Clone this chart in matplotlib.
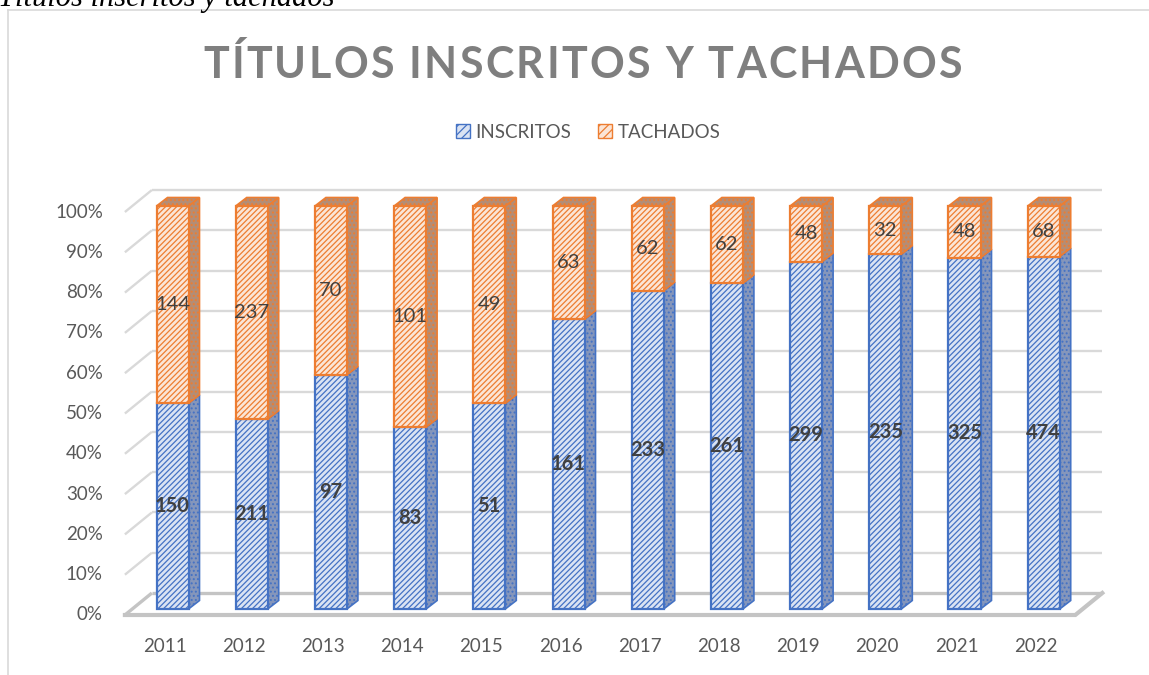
import matplotlib
matplotlib.use("Agg")
import matplotlib.pyplot as plt
from matplotlib.patches import Polygon, Patch
import numpy as np

# ---------------- data ----------------
years = ["2011", "2012", "2013", "2014", "2015", "2016",
         "2017", "2018", "2019", "2020", "2021", "2022"]
inscritos = [150, 211, 97, 83, 51, 161, 233, 261, 299, 235, 325, 474]
tachados = [144, 237, 70, 101, 49, 63, 62, 62, 48, 32, 48, 68]
y_ticks = [0, 10, 20, 30, 40, 50, 60, 70, 80, 90, 100]
title = "TÍTULOS INSCRITOS Y TACHADOS"
caption = "Títulos inscritos y tachados"
series_names = ["INSCRITOS", "TACHADOS"]

# ---------------- style / layout ----------------
W, H = 1149, 675
DPI = 100
FONT = "Lato"
BLUE = "#4472c4"
BLUE_BG = "#dae3f3"
BLUE_SIDE = "#8596bb"
ORANGE = "#ed7d31"
ORANGE_BG = "#fbe5d6"
ORANGE_SIDE = "#b48d75"
TXT = "#595959"
LBL = "#404040"
GRID = "#d9d9d9"
FLOOR = "#c4c4c4"

plt.rcParams["hatch.linewidth"] = 0.9

fig = plt.figure(figsize=(W / DPI, H / DPI), dpi=DPI)
ax = fig.add_axes([0, 0, 1, 1])
ax.set_axis_off()

# pixel geometry of the pseudo-3D frame
SP = 79.2      # px per category
C0 = 164.5     # px x of first category centre (front plane)
PY0 = 615.0    # px y (from top) of 0 % on the front plane
PPP = 4.03     # px per percent
ax.set_xlim(-C0 / SP, (W - C0) / SP)
ax.set_ylim((PY0 - H) / PPP, PY0 / PPP)

DX, DY = 27 / SP, 22 / PPP          # wall depth
BX, BY = 8 / SP, 6 / PPP            # bar front-plane shift
BDX, BDY = 11 / SP, 8.5 / PPP       # bar depth
BW = 32 / SP                        # bar width

n = len(years)
x = np.arange(n)
xl, xr = -0.5, n - 0.5

# back wall gridlines and left wall diagonals
for p in y_ticks:
    col = GRID if p else FLOOR
    lw = 1.7 if p else 2.4
    ax.plot([xl, xl + DX], [p, p + DY], color=col, lw=lw, zorder=1,
            solid_capstyle="butt")
    ax.plot([xl + DX, xr + DX], [p + DY, p + DY], color=col, lw=lw, zorder=1,
            solid_capstyle="butt")
# floor front & right edges
ax.plot([xl, xr, xr + DX], [0, 0, DY], color=FLOOR, lw=3.0, zorder=1,
        solid_joinstyle="miter")

# ---------------- bars ----------------
tot = np.array(inscritos, float) + np.array(tachados, float)
p_ins = np.array(inscritos) / tot * 100
p_tac = np.array(tachados) / tot * 100

segments = [
    (p_ins, np.zeros(n), BLUE, BLUE_BG, BLUE_SIDE, inscritos, "bold"),
    (p_tac, p_ins, ORANGE, ORANGE_BG, ORANGE_SIDE, tachados, "normal"),
]

for k, (pct, bot, ec, bg, side, vals, wt) in enumerate(segments):
    xc = x + BX
    # side faces
    for i in range(n):
        xr_ = xc[i] + BW / 2
        b = bot[i] + BY
        t = bot[i] + pct[i] + BY
        poly = Polygon([(xr_, b), (xr_ + BDX, b + BDY), (xr_ + BDX, t + BDY), (xr_, t)],
                       closed=True, facecolor=side, edgecolor=ec, lw=1.2,
                       hatch="....", zorder=3)
        ax.add_patch(poly)
        if k == 1:
            xl_ = xc[i] - BW / 2
            top = Polygon([(xl_, t), (xr_, t), (xr_ + BDX, t + BDY), (xl_ + BDX, t + BDY)],
                          closed=True, facecolor=side, edgecolor=ec, lw=1.2,
                          hatch="....", zorder=3)
            ax.add_patch(top)
    ax.bar(xc, pct, bottom=bot + BY, width=BW, facecolor=bg, edgecolor=ec,
           linewidth=1.6, hatch="//////", zorder=4)
    for i in range(n):
        ax.text(xc[i], bot[i] + BY + pct[i] / 2, str(vals[i]), ha="center", va="center",
                fontsize=14.5, fontweight=wt, color=LBL, family=FONT, zorder=6)

# ---------------- axis labels ----------------
for p in y_ticks:
    ax.text(xl - 22 / SP, p, f"{p}%", ha="right", va="center", fontsize=13.5,
            color=TXT, family=FONT)
for i, yr in enumerate(years):
    ax.text(i, -7.9, yr, ha="center", va="center", fontsize=13.5, color=TXT, family=FONT)

# ---------------- title with letter spacing ----------------
renderer = fig.canvas.get_renderer()
tsize = 31
tkw = dict(fontsize=tsize, fontweight="bold", color="#7f7f7f", family=FONT)
t_left, t_right, t_base = 203, 962, 78  # px
def pref_width(s):
    if not s:
        return 0.0
    tt = fig.text(0, 0, s.replace(" ", "\u00a0"), **tkw)
    w = tt.get_window_extent(renderer).width
    tt.remove()
    return w
widths = [pref_width(title[:i]) for i in range(len(title) + 1)]
natural = widths[-1]
spacing = (t_right - t_left - natural) / (len(title) - 1)
for i, ch in enumerate(title):
    if ch == " ":
        continue
    px = t_left + widths[i] + spacing * i
    fig.text(px / W, 1 - t_base / H, ch, ha="left", va="baseline", **tkw)

# ---------------- caption & frame ----------------
fig.text(-2 / W, 1 - 6 / H, caption, ha="left", va="baseline", fontsize=22,
         style="italic", family="Liberation Serif", color="black")
fig.add_artist(plt.Line2D([8 / W, 8 / W], [0, 1 - 10 / H], color=GRID, lw=1.2,
                          transform=fig.transFigure))
fig.add_artist(plt.Line2D([8 / W, 1], [1 - 10 / H, 1 - 10 / H], color=GRID, lw=1.2,
                          transform=fig.transFigure))

# ---------------- legend ----------------
handles = [Patch(facecolor=BLUE_BG, edgecolor=BLUE, hatch="////", lw=1.0),
           Patch(facecolor=ORANGE_BG, edgecolor=ORANGE, hatch="////", lw=1.0)]
leg = fig.legend(handles, series_names, loc="center", ncol=2,
                 bbox_to_anchor=(588 / W, 1 - 132 / H), frameon=False,
                 prop={"family": FONT, "size": 13.5}, handlelength=0.75,
                 handleheight=0.75, handletextpad=0.3, columnspacing=1.4)
for t in leg.get_texts():
    t.set_color(TXT)

fig.savefig("out.png", dpi=DPI)
